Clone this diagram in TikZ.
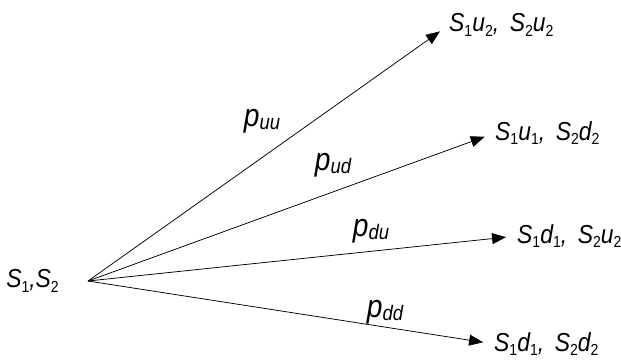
\documentclass[tikz,border=0pt]{standalone}
\usepackage{fontspec}
\setmainfont{Liberation Sans}[FakeStretch=0.88]
\usetikzlibrary{arrows.meta}
\newcommand\dn[1]{\raisebox{-0.18em}{\fontsize{16}{17}\selectfont\upshape #1}}
\newcommand\pp[1]{{\fontsize{32}{34}\selectfont p}\raisebox{-0.3em}{\fontsize{21}{22}\selectfont #1}}
\tikzset{
  lab/.style={font=\fontsize{26}{30}\selectfont\itshape, inner sep=0pt, anchor=west},
  plab/.style={font=\itshape, inner sep=0pt},
  br/.style={line width=0.75pt, -{Triangle[length=14pt,width=11pt]}, shorten >=11pt}
}
\begin{document}
\begin{tikzpicture}[x=1pt,y=-1pt]
\useasboundingbox (0,0) rectangle (621,359);
\node[lab,anchor=east] (s) at (59,281) {S\dn{1},S\dn{2}};
\coordinate (o) at (88,281);
\node[lab] (a) at (449,25) {S\dn{1}u\dn{2}, \,S\dn{2}u\dn{2}};
\node[lab] (b) at (495,133) {S\dn{1}u\dn{1}, \,S\dn{2}d\dn{2}};
\node[lab] (c) at (517,236) {S\dn{1}d\dn{1}, \,S\dn{2}u\dn{2}};
\node[lab] (d) at (494,344) {S\dn{1}d\dn{1}, \,S\dn{2}d\dn{2}};
\draw[br] (o) -- (a.west);
\draw[br] (o) -- (b.west);
\draw[br] (o) -- (c.west);
\draw[br] (o) -- (d.west);
\node[plab] (puu) at (262,121) {\pp{uu}};
\node[plab] (pud) at (333,165) {\pp{ud}};
\node[plab] (pdu) at (371,231) {\pp{du}};
\node[plab] (pdd) at (385,312) {\pp{dd}};
\end{tikzpicture}
\end{document}
